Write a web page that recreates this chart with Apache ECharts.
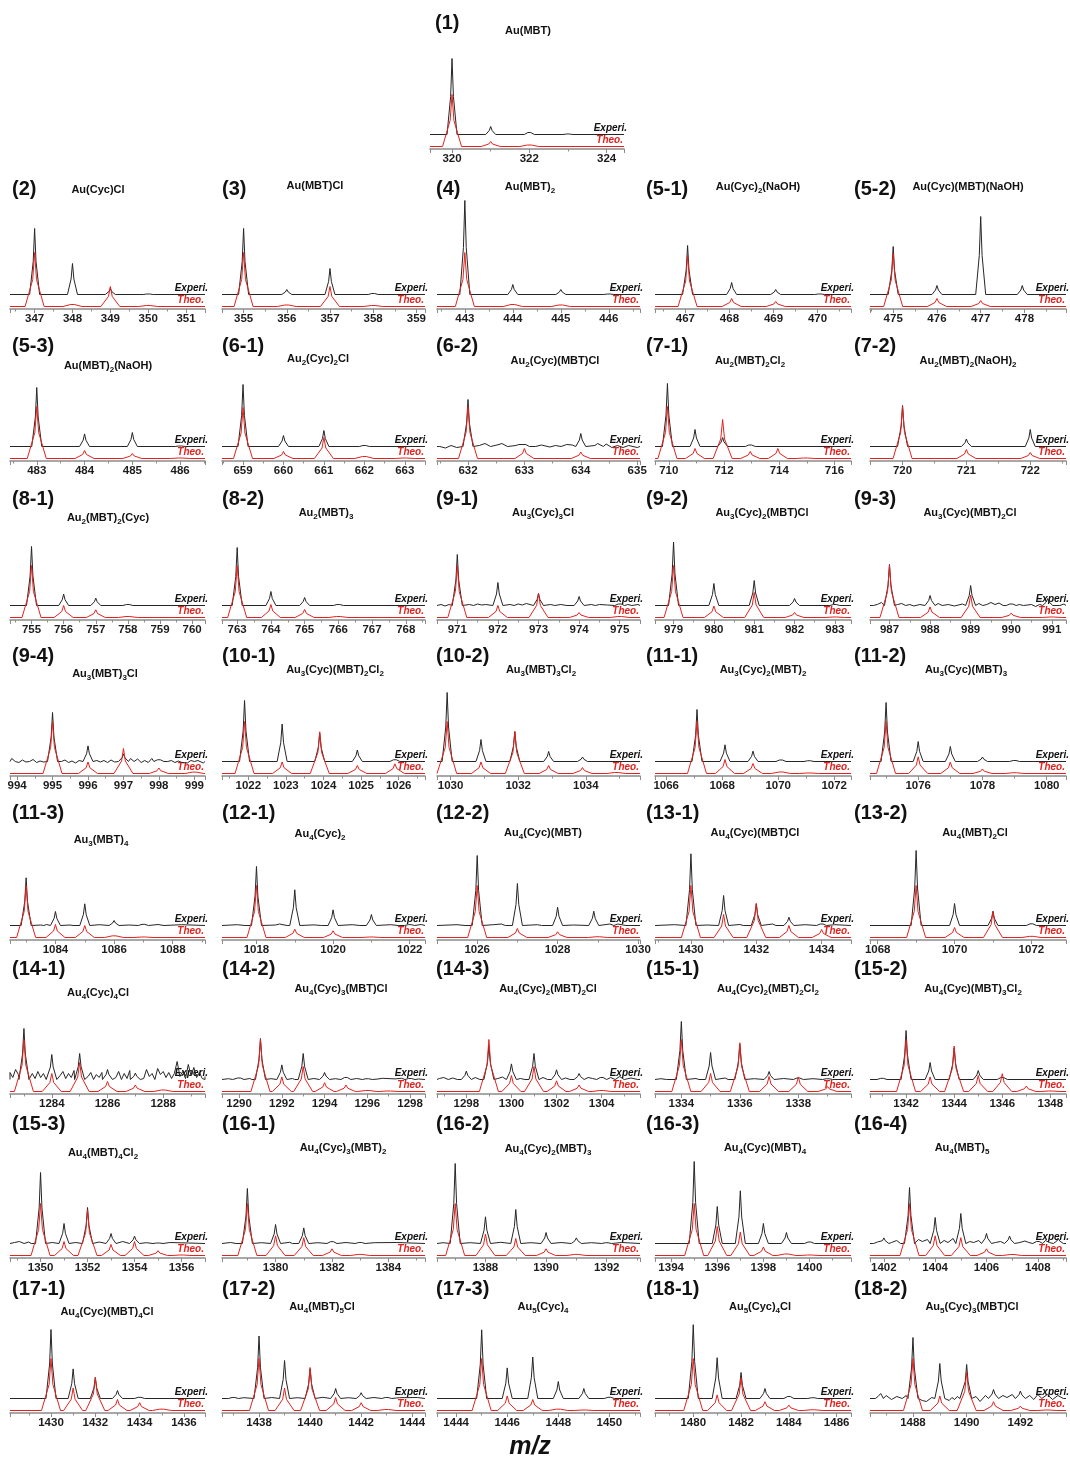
<!DOCTYPE html>
<html>
<head>
<meta charset="utf-8">
<script src="https://cdn.jsdelivr.net/npm/echarts@6/dist/echarts.min.js"></script>
<style>
  html, body { margin: 0; padding: 0; background: #fff; }
  #chart { width: 1070px; height: 1461px; }
</style>
</head>
<body>
<div id="chart"></div>
<script>
// ---- Isotope patterns: [m/z, intensity] (intensity in a.u., theoretical base peak = 52) ----
// Experimental (E*), theoretical (T*), and baseline noise of the experimental trace (N*).
const E1 = [[320, 76], [321, 8], [322, 4], [323, 1]];
const T1 = [[320, 52], [321, 5], [322, 3]];
const E2 = [[347, 66], [348, 31], [349, 6], [350, 1]];
const T2 = [[347, 54], [348, 4], [349, 20], [350, 2]];
const E3 = [[355, 66], [356, 5], [357, 26], [358, 2]];
const T3 = [[355, 54], [356, 3], [357, 20], [358, 2]];
const E4 = [[443, 94], [444, 10], [445, 5], [446, 1]];
const T4 = [[443, 54], [444, 4], [445, 3]];
const E5_1 = [[467.05, 49], [468.05, 12], [469.05, 5], [470.05, 1]];
const T5_1 = [[467.05, 51], [468.05, 8], [469.05, 5]];
const E5_2 = [[475, 48], [476, 9], [477, 78], [477.95, 9]];
const T5_2 = [[475, 53], [476, 8], [477, 6]];
const E5_3 = [[483, 59], [484, 12.6], [485, 14], [486, 1]];
const T5_3 = [[483, 52], [484, 8], [485, 5], [486, 1]];
const E6_1 = [[659, 62], [660, 11], [661, 16], [662, 2]];
const T6_1 = [[659, 51], [660, 7], [661, 21], [662, 4], [663, 1]];
const E6_2 = [[632, 47], [633, 4], [634, 13]];
const T6_2 = [[632, 52], [633, 10], [634, 6.5]];
const N6_2 = [[631.5, 0], [631.6, -1.5], [631.7, 1], [631.8, -1], [632.2, 1], [632.3, 3], [632.4, 0], [632.55, 2], [632.6, 3], [632.7, 0],
  [632.85, 1], [632.9, 2], [633.2, 0], [633.3, 1.5], [633.45, -0.5], [633.55, 1], [633.65, 0], [633.75, 2], [633.85, 1.5],
  [634.25, 1], [634.3, 3], [634.4, 0], [634.45, 2.5], [634.55, -1], [634.65, 1], [634.75, -1], [634.85, 1], [635.0, -1]];
const E7_1 = [[709.95, 63], [710.95, 17], [711.95, 9], [712.95, 3]];
const T7_1 = [[709.95, 52], [710.95, 10], [711.95, 39], [712.95, 7], [713.95, 10], [714.95, 1]];
const E7_2 = [[720, 41], [721, 7.5], [722, 17]];
const T7_2 = [[720, 52], [721, 9], [722, 6]];
const E8_1 = [[755, 59], [756, 11.4], [757, 7.4], [758, 2]];
const T8_1 = [[755, 52], [756, 12], [757, 7.7], [758, 2]];
const E8_2 = [[763, 58], [764, 14], [765, 8], [766, 2]];
const T8_2 = [[763, 52], [764, 13], [765, 8], [766, 2]];
const E9_1 = [[971, 51], [972, 23], [973, 12], [974, 9], [975, 3]];
const T9_1 = [[971, 52], [972, 12], [973, 24], [974, 5], [975, 2]];
const N9_1 = [[970.6, 1], [970.7, -0.5], [970.8, 1], [971.3, 1], [971.4, 0], [971.5, 1.5], [971.6, 0.5], [971.7, 1], [972.3, 1],
  [972.4, 0], [972.5, 1.5], [972.6, 0.5], [972.7, 2], [973.3, 1], [973.4, 0], [973.55, 1], [973.7, 0], [974.3, 1], [974.4, 0],
  [974.5, 1], [974.7, 0.5], [975.2, 1], [975.3, 0], [975.45, 1]];
const E9_2 = [[979, 63.5], [980, 22], [981, 25], [982, 7], [983, 2]];
const T9_2 = [[979, 52], [980, 11.5], [981, 25], [982, 5], [983, 1]];
const E9_3 = [[987, 41], [988, 10], [989, 20], [990, 3], [990.9, 7]];
const T9_3 = [[987, 52], [988, 10.6], [989, 22.5], [990, 4.4], [991, 1]];
const N9_3 = [[986.6, 0], [986.7, 1], [986.8, 3], [986.9, 1], [987.2, 1], [987.3, 2], [987.4, 0], [987.5, 1], [987.6, -0.5],
  [987.75, 1], [988.2, 2], [988.3, 0], [988.45, 1], [988.6, -0.5], [988.8, 1.5], [989.2, 2], [989.3, 0], [989.4, 1], [989.5, 3],
  [989.6, 1], [989.7, 2.5], [989.8, 0], [990.2, 1], [990.3, 0], [990.5, 1], [990.6, -1], [990.7, 1], [991.2, 0], [991.3, 1.5]];
const E9_4 = [[995, 49], [996, 15.6], [997, 7.6], [998, 3.5]];
const T9_4 = [[995, 52], [996, 11.5], [997, 25], [998, 5.5], [999, 2.8]];
const N9_4 = [[993.85, 3], [993.95, 0], [994.05, -1], [994.15, 1.5], [994.25, -0.5], [994.35, 0], [994.45, 2], [994.55, -1],
  [994.65, 0.5], [994.75, -0.5], [995.25, 0], [995.35, 1.5], [995.45, -1], [995.55, 0.5], [995.65, -1.5], [995.75, 1],
  [996.25, 1], [996.35, -0.5], [996.45, 1], [996.55, -1], [996.65, 1.5], [996.75, -0.5], [997.2, 3], [997.3, 0], [997.4, 2.5],
  [997.5, -1], [997.6, 1], [997.7, -1], [997.8, 3], [998.15, 3.5], [998.25, 0], [998.35, 1], [998.45, -1], [998.55, 0.5],
  [998.65, -1], [998.8, -1.5], [998.9, 1], [999.0, 0], [999.1, 1], [999.25, -1.5]];
const E10_1 = [[1021.9, 61], [1022.9, 37.5], [1023.9, 28], [1024.9, 11.5], [1025.9, 3.5]];
const T10_1 = [[1021.9, 52], [1022.9, 11.5], [1023.9, 41.7], [1024.9, 8], [1025.9, 9.7]];
const E10_2 = [[1029.9, 69], [1030.9, 22], [1031.9, 30], [1032.9, 10], [1033.9, 4.5]];
const T10_2 = [[1029.9, 52], [1030.9, 11.5], [1031.9, 41.7], [1032.9, 8], [1033.9, 6], [1034.9, 2]];
const E11_1 = [[1067.1, 52], [1068.1, 16.7], [1069.1, 10.4], [1070.1, 3], [1071.1, 1.5]];
const T11_1 = [[1067.1, 52], [1068.1, 14], [1069.1, 10], [1070.1, 3], [1071.1, 1]];
const E11_2 = [[1075, 59], [1076, 20], [1077, 15], [1078, 4.5], [1079, 2]];
const T11_2 = [[1075, 52], [1076, 16.7], [1077, 11.5], [1078, 4.5], [1079, 1.5]];
const E11_3 = [[1083, 47.7], [1084, 14], [1085, 21.7], [1086, 5], [1087, 2.3]];
const T11_3 = [[1083, 52], [1084, 13], [1085, 12], [1086, 3.3], [1087, 1]];
const N11_3 = [[1083.5, 0.5], [1083.6, 0], [1083.7, 1], [1084.5, 0.5], [1084.6, 0], [1085.5, 0.8], [1086.5, 0.5], [1087.5, 1], [1087.7, 0], [1088.3, 0.8]];
const E12_1 = [[1018, 59], [1019, 35.7], [1020, 15.7], [1021, 11], [1022, 1.7]];
const T12_1 = [[1018, 52], [1019, 8.3], [1020, 6.7], [1021, 1]];
const N12_1 = [[1017.5, 0.8], [1017.7, 0], [1018.5, 0.5], [1018.6, 1.5], [1018.8, 0], [1019.5, 0.6], [1019.7, 0], [1020.5, 0.8], [1020.7, 0], [1021.5, 0.8], [1021.7, 0], [1022.3, 1]];
const E12_2 = [[1026, 70], [1027, 42], [1028, 18.3], [1028.9, 14.3]];
const T12_2 = [[1026, 52], [1027, 9], [1028, 5.7], [1029, 1.5]];
const N12_2 = [[1025.5, 0.8], [1025.7, 0], [1026.4, 0.8], [1026.6, 1.5], [1026.7, 0], [1027.5, 0.8], [1027.6, 0], [1028.4, 0.5], [1029.3, 1.5], [1029.4, 0], [1029.5, 1.5], [1029.7, 0]];
const E13_1 = [[1430, 71.7], [1431, 30], [1432, 21.7], [1433, 8.3], [1434, 3]];
const T13_1 = [[1430, 52], [1431, 23], [1432, 34], [1433, 12], [1434, 8]];
const N13_1 = [[1429.5, 0.8], [1430.5, 0.5], [1431.5, 1], [1431.6, 0], [1432.5, 1.5], [1432.6, 0], [1433.5, 0.8], [1434.4, 0.8]];
const E13_2 = [[1069, 75], [1070, 22], [1071, 14.3], [1072, 3.3]];
const T13_2 = [[1069, 52], [1070, 10], [1071, 25.7], [1072, 2.3]];
const E14_1 = [[1283, 51], [1284, 25], [1285, 26], [1286, 10], [1287, 6.5]];
const T14_1 = [[1283, 52], [1284, 18], [1285, 29], [1286, 10], [1287, 6.5], [1288, 3]];
const N14_1 = [[1282.5, 7], [1282.6, 2], [1282.7, 10], [1282.8, 5], [1282.9, 7], [1283.3, 6], [1283.4, 1], [1283.5, 8], [1283.6, 2],
  [1283.7, 6], [1283.8, 0], [1284.3, 4], [1284.4, 8], [1284.5, 1], [1284.6, 6], [1284.7, 2], [1284.8, 9], [1285.3, 3], [1285.4, 7],
  [1285.5, 0], [1285.6, 5], [1285.7, 2], [1285.8, 7], [1285.9, 0], [1286.3, 2], [1286.4, 8], [1286.5, 0], [1286.6, 6], [1286.7, 1],
  [1286.8, 9], [1286.9, 2], [1287.3, 1], [1287.4, 10], [1287.5, 3], [1287.6, 6], [1287.7, 0], [1287.8, 11], [1287.9, 5],
  [1288.0, 8], [1288.1, 2], [1288.2, 7], [1288.3, 1], [1288.4, 6], [1288.5, 18], [1288.6, 3], [1288.7, 8], [1288.8, 1],
  [1288.9, 15], [1289.0, 4], [1289.1, 12], [1289.2, 2], [1289.3, 7], [1289.4, 1], [1289.5, 3]];
const E14_2 = [[1290, 3], [1291, 41], [1292, 14.6], [1293, 26], [1294, 7], [1295, 4], [1296, 1.5], [1298, 2]];
const T14_2 = [[1291, 52], [1292, 14.6], [1293, 25], [1294, 8.8], [1295, 6.5], [1296, 2], [1297, 1]];
const N14_2 = [[1289.5, 0.8], [1289.7, 0], [1290.5, 1], [1290.6, 0], [1291.5, 0.8], [1292.5, 1], [1292.6, 0], [1293.5, 1], [1294.5, 0.8],
  [1295.5, 1], [1296.5, 0.5], [1296.7, 1.2], [1297.3, 0.6], [1297.6, 1.2], [1298.4, 0.5]];
const E14_3 = [[1298, 8.4], [1299, 34], [1300, 15.6], [1301, 26], [1302, 9.7], [1303, 6], [1304, 4]];
const T14_3 = [[1299, 52], [1300, 16], [1301, 25], [1302, 10.7], [1303, 6.5], [1304, 2]];
const N14_3 = [[1296.8, 1], [1297.0, 2], [1297.2, 0], [1297.4, 1.5], [1297.6, 0], [1298.4, 2], [1298.6, 0], [1299.4, 1], [1299.6, 2.5],
  [1300.4, 1], [1300.6, 0], [1301.4, 2], [1301.6, 0], [1302.4, 1.5], [1302.6, 0], [1303.4, 2], [1303.6, 1], [1304.4, 2],
  [1304.6, 0], [1304.8, 3], [1305.0, 0], [1305.3, 1.5], [1305.6, 0]];
const E15_1 = [[1334, 58], [1335, 27], [1336, 35], [1337, 8], [1338, 3], [1339, 1.5]];
const T15_1 = [[1334, 52], [1335, 18], [1336, 48.7], [1337, 15], [1338, 14.6], [1339, 5]];
const N15_1 = [[1333.3, 0.8], [1333.5, 0], [1334.5, 1], [1334.6, 0], [1335.5, 1.5], [1335.6, 0], [1336.5, 0.8], [1337.5, 1], [1338.5, 0.8], [1339.2, 1.2]];
const E15_2 = [[1341, 2.3], [1342, 49], [1343, 17], [1344, 31.5], [1345, 9], [1346, 4]];
const T15_2 = [[1342, 52], [1343, 14.6], [1344, 45.5], [1345, 16], [1346, 17.8], [1347, 5.5], [1348, 1]];
const E15_3 = [[1350, 71], [1351, 20], [1352, 36], [1353, 10], [1354, 7.4], [1355, 1]];
const T15_3 = [[1350, 52], [1351, 14], [1352, 45.6], [1353, 11], [1354, 14], [1355, 4.8], [1356, 1]];
const N15_3 = [[1348.9, 1], [1349.1, 2], [1349.3, 0], [1349.5, 1.5], [1349.6, 0], [1350.5, 1], [1351.5, 1], [1352.5, 1.5], [1353.5, 2], [1354.5, 0.8], [1355.5, 1], [1356.3, 0.5]];
const E16_1 = [[1379, 55], [1380, 19], [1381, 15.6], [1382, 3.7], [1383, 2]];
const T16_1 = [[1379, 52], [1380, 19.7], [1381, 17.8], [1382, 6.7], [1383, 2.2]];
const N16_1 = [[1378.4, 1], [1378.6, 0], [1379.5, 0.8], [1380.5, 1.2], [1380.6, 0], [1381.5, 0.8], [1382.5, 1], [1383.5, 0.8], [1384.3, 1]];
const E16_2 = [[1387, 80], [1388, 26.7], [1389, 34], [1390, 11], [1391, 5.6], [1392, 1.5]];
const T16_2 = [[1387, 52], [1388, 21.5], [1389, 17], [1390, 6.7], [1391, 2.2]];
const N16_2 = [[1386.6, 0.8], [1387.5, 0.8], [1388.5, 1.2], [1389.5, 0.8], [1390.5, 1], [1391.5, 0.8], [1392.5, 1]];
const E16_3 = [[1395, 82], [1396, 37], [1397, 52.7], [1398, 20], [1399, 11], [1400, 3]];
const T16_3 = [[1395, 52], [1396, 29], [1397, 23.4], [1398, 8.5], [1399, 3], [1400, 1]];
const E16_4 = [[1402, 5.6], [1403, 56], [1404, 26], [1405, 30], [1406, 10], [1406.9, 7.4], [1408, 4], [1408.8, 5]];
const T16_4 = [[1403, 52], [1404, 19.7], [1405, 17.8], [1406, 6.7], [1407, 2]];
const N16_4 = [[1401.6, 0], [1401.75, 1.5], [1402.3, 1], [1402.5, 3], [1402.65, 0], [1403.35, 4], [1403.5, 2], [1403.7, 4],
  [1404.35, 3], [1404.5, 1], [1404.7, 5], [1405.35, 2], [1405.5, 1], [1405.7, 3], [1406.35, 1], [1406.55, 2], [1407.3, 1],
  [1407.5, 2.5], [1407.65, 1], [1408.3, 3], [1408.45, 1], [1408.6, 2], [1409.0, 2]];
const E17_1 = [[1430, 69], [1431, 29.6], [1432, 21], [1433, 8], [1434, 2.4]];
const T17_1 = [[1430, 52], [1431, 22.5], [1432, 33], [1433, 11], [1434, 7.8], [1435, 2.7]];
const E17_2 = [[1437, 2], [1438, 62.5], [1439, 38], [1440, 29.6], [1441, 10], [1442, 5.8], [1443, 2]];
const T17_2 = [[1438, 52], [1439, 22.5], [1440, 43], [1441, 13], [1442, 7.8], [1443, 2]];
const N17_2 = [[1436.8, 1], [1437.4, 0.8], [1438.5, 1], [1439.5, 0.8], [1440.5, 1.2], [1441.5, 0.8], [1442.5, 1], [1443.5, 0.8], [1444.2, 1]];
const E17_3 = [[1445, 68.7], [1446, 30.6], [1447, 41.5], [1448, 17], [1449, 10], [1450, 2.4]];
const T17_3 = [[1445, 52], [1446, 14.6], [1447, 11], [1448, 2.7], [1449, 1]];
const E18_1 = [[1480, 73.8], [1481, 40.8], [1482, 26], [1483, 10], [1484, 4], [1485, 1.5]];
const T18_1 = [[1480, 52], [1481, 15.6], [1482, 32.6], [1483, 8.8], [1484, 5.4], [1485, 1.5]];
const E18_2 = [[1488, 61], [1489, 35], [1490, 34], [1491, 9], [1492, 7.5]];
const T18_2 = [[1488, 52], [1489, 14.6], [1490, 38.4], [1491, 8.8], [1492, 4.4], [1493, 1]];
const N18_2 = [[1486.6, 0], [1486.7, 2], [1486.8, 5], [1486.9, 0], [1487.0, 3], [1487.2, -1], [1487.4, 2], [1487.6, 0], [1487.75, 3],
  [1488.35, -2], [1488.5, -3], [1488.7, 1], [1489.35, -2], [1489.45, 1], [1489.55, -1], [1489.65, 2], [1489.75, 0],
  [1490.35, 2], [1490.5, -3], [1490.7, 3], [1491.35, 3], [1491.5, 1], [1491.7, 4], [1492.35, 3], [1492.5, -1], [1492.65, 4],
  [1492.8, 0], [1493.0, 4], [1493.2, -1], [1493.4, 3], [1493.6, 0]];

// ---- Panel tags, formulas and m/z axis ranges [min, max, major step], row by row ----
const TAGS = [
  ['(1)'],
  ['(2)', '(3)', '(4)', '(5-1)', '(5-2)'],
  ['(5-3)', '(6-1)', '(6-2)', '(7-1)', '(7-2)'],
  ['(8-1)', '(8-2)', '(9-1)', '(9-2)', '(9-3)'],
  ['(9-4)', '(10-1)', '(10-2)', '(11-1)', '(11-2)'],
  ['(11-3)', '(12-1)', '(12-2)', '(13-1)', '(13-2)'],
  ['(14-1)', '(14-2)', '(14-3)', '(15-1)', '(15-2)'],
  ['(15-3)', '(16-1)', '(16-2)', '(16-3)', '(16-4)'],
  ['(17-1)', '(17-2)', '(17-3)', '(18-1)', '(18-2)']
];
const FORMULAS = [
  ['Au(MBT)'],
  ['Au(Cyc)Cl', 'Au(MBT)Cl', 'Au(MBT)_2', 'Au(Cyc)_2(NaOH)', 'Au(Cyc)(MBT)(NaOH)'],
  ['Au(MBT)_2(NaOH)', 'Au_2(Cyc)_2Cl', 'Au_2(Cyc)(MBT)Cl', 'Au_2(MBT)_2Cl_2', 'Au_2(MBT)_2(NaOH)_2'],
  ['Au_2(MBT)_2(Cyc)', 'Au_2(MBT)_3', 'Au_3(Cyc)_3Cl', 'Au_3(Cyc)_2(MBT)Cl', 'Au_3(Cyc)(MBT)_2Cl'],
  ['Au_3(MBT)_3Cl', 'Au_3(Cyc)(MBT)_2Cl_2', 'Au_3(MBT)_3Cl_2', 'Au_3(Cyc)_2(MBT)_2', 'Au_3(Cyc)(MBT)_3'],
  ['Au_3(MBT)_4', 'Au_4(Cyc)_2', 'Au_4(Cyc)(MBT)', 'Au_4(Cyc)(MBT)Cl', 'Au_4(MBT)_2Cl'],
  ['Au_4(Cyc)_4Cl', 'Au_4(Cyc)_3(MBT)Cl', 'Au_4(Cyc)_2(MBT)_2Cl', 'Au_4(Cyc)_2(MBT)_2Cl_2', 'Au_4(Cyc)(MBT)_3Cl_2'],
  ['Au_4(MBT)_4Cl_2', 'Au_4(Cyc)_3(MBT)_2', 'Au_4(Cyc)_2(MBT)_3', 'Au_4(Cyc)(MBT)_4', 'Au_4(MBT)_5'],
  ['Au_4(Cyc)(MBT)_4Cl', 'Au_4(MBT)_5Cl', 'Au_5(Cyc)_4', 'Au_5(Cyc)_4Cl', 'Au_5(Cyc)_3(MBT)Cl']
];
const MZ_RANGES = [
  [[319.43, 324.45, 2]],
  [[346.35, 351.5, 1], [354.5, 359.2, 1], [442.42, 446.65, 1], [466.31, 470.76, 1], [474.47, 478.95, 1]],
  [[482.44, 486.52, 1], [658.48, 663.5, 1], [631.45, 635.05, 1], [709.5, 716.6, 2], [719.49, 722.56, 1]],
  [[754.33, 760.4, 1], [762.55, 768.57, 1], [970.5, 975.5, 1], [978.54, 983.4, 1], [986.52, 991.35, 1]],
  [[993.8, 999.3, 1], [1021.3, 1026.7, 1], [1029.6, 1035.6, 2], [1065.6, 1072.6, 2], [1074.5, 1080.6, 2]],
  [[1082.45, 1089.1, 2], [1017.1, 1022.4, 2], [1025.0, 1030.05, 2], [1428.9, 1434.9, 2], [1067.8, 1072.9, 2]],
  [[1282.5, 1289.5, 2], [1289.2, 1298.7, 2], [1296.7, 1305.7, 2], [1333.1, 1339.8, 2], [1340.5, 1348.65, 2]],
  [[1348.7, 1357.0, 2], [1378.1, 1385.3, 2], [1386.4, 1393.1, 2], [1393.3, 1401.8, 2], [1401.46, 1409.1, 2]],
  [[1428.15, 1436.95, 2], [1436.55, 1444.5, 2], [1443.25, 1451.2, 2], [1478.4, 1486.6, 2], [1486.4, 1493.7, 2]]
];
const TRACES = [
  [[E1, T1]],
  [[E2, T2], [E3, T3], [E4, T4], [E5_1, T5_1], [E5_2, T5_2]],
  [[E5_3, T5_3], [E6_1, T6_1], [E6_2, T6_2, N6_2], [E7_1, T7_1], [E7_2, T7_2]],
  [[E8_1, T8_1], [E8_2, T8_2], [E9_1, T9_1, N9_1], [E9_2, T9_2], [E9_3, T9_3, N9_3]],
  [[E9_4, T9_4, N9_4], [E10_1, T10_1], [E10_2, T10_2], [E11_1, T11_1], [E11_2, T11_2]],
  [[E11_3, T11_3, N11_3], [E12_1, T12_1, N12_1], [E12_2, T12_2, N12_2], [E13_1, T13_1, N13_1], [E13_2, T13_2]],
  [[E14_1, T14_1, N14_1], [E14_2, T14_2, N14_2], [E14_3, T14_3, N14_3], [E15_1, T15_1, N15_1], [E15_2, T15_2]],
  [[E15_3, T15_3, N15_3], [E16_1, T16_1, N16_1], [E16_2, T16_2, N16_2], [E16_3, T16_3], [E16_4, T16_4, N16_4]],
  [[E17_1, T17_1], [E17_2, T17_2, N17_2], [E17_3, T17_3], [E18_1, T18_1], [E18_2, T18_2, N18_2]]
];

// ---- Page layout (pixels) ----
const COL_X = [[10, 205], [222, 425], [437, 640], [655, 851], [870, 1066]];
const SOLO_X = [430, 624];                 // the single panel of the first row
const ROW_AXIS_Y = [149, 309, 461, 620, 776, 940, 1094, 1258, 1413];
const ROW_TAG_Y = [23, 189, 346, 499, 656, 813, 969, 1124, 1289];
const TAG_X = [12, 222, 436, 646, 854];
const TITLE_POS = [
  [[528, 31]],
  [[98, 190], [315, 186], [530, 187], [758, 187], [968, 187]],
  [[108, 366], [318, 359], [555, 361], [750, 361], [968, 361]],
  [[108, 518], [326, 513], [543, 513], [762, 513], [970, 513]],
  [[105, 674], [335, 670], [541, 670], [763, 670], [966, 670]],
  [[101, 840], [320, 834], [543, 833], [755, 833], [975, 833]],
  [[98, 993], [341, 989], [548, 989], [768, 989], [973, 989]],
  [[103, 1153], [343, 1148], [548, 1149], [765, 1148], [962, 1148]],
  [[107, 1312], [322, 1307], [543, 1307], [760, 1307], [972, 1307]]
];

const FONT = '"Liberation Sans", Arial, Helvetica, sans-serif';
const PLOT_H = 118;        // plot height in px (1 intensity unit = 1 px)
const BASE_GAP = 2.5;      // theoretical baseline sits this far above the axis line
const EXP_OFFSET = 12;     // experimental trace is stacked above the theoretical one
const RED = '#e3221f';
const AXIS_GRAY = '#8c8c8c';

// Peak outline: foot, half-height shoulder, apex (widths given in px)
function buildTrace(peaks, noise, range, pxPerUnit, halfPx, footPx, base) {
  const wh = halfPx / pxPerUnit, wf = footPx / pxPerUnit;
  const pts = [[range[0], base], [range[1], base]];
  peaks.forEach(([x, h]) => {
    pts.push([x - wf, base], [x - wh, base + h / 2], [x, base + h], [x + wh, base + h / 2], [x + wf, base]);
  });
  (noise || []).forEach(([x, v]) => {
    if (!peaks.some(([px]) => Math.abs(px - x) < wf * 1.1)) pts.push([x, base + v]);
  });
  pts.sort((a, b) => a[0] - b[0]);
  return pts;
}

function richFormula(s) {
  return s.replace(/_(\d)/g, '{s|$1}');
}

const grids = [], xAxes = [], yAxes = [], series = [], graphics = [], panels = [];

TAGS.forEach((row, r) => {
  row.forEach((tag, c) => {
    const idx = grids.length;
    const xr = r === 0 ? SOLO_X : COL_X[c];
    const [mn, mx, step] = MZ_RANGES[r][c];
    const width = xr[1] - xr[0];
    const axisY = ROW_AXIS_Y[r];
    grids.push({ left: xr[0], width: width, top: axisY - PLOT_H, height: PLOT_H, containLabel: false });
    xAxes.push({
      type: 'value', gridIndex: idx, min: mn, max: mx,
      minInterval: step, maxInterval: step, splitNumber: 4,
      axisLine: { show: true, onZero: false, lineStyle: { color: AXIS_GRAY, width: 1.6 } },
      axisTick: { show: true, length: 4, lineStyle: { color: AXIS_GRAY, width: 1 } },
      minorTick: { show: true, splitNumber: 2, length: 2.5, lineStyle: { color: AXIS_GRAY, width: 1 } },
      splitLine: { show: false }, minorSplitLine: { show: false },
      axisLabel: {
        margin: 4, fontSize: 11.5, fontWeight: 'bold', color: '#1c1c1c', fontFamily: FONT,
        showMinLabel: true, showMaxLabel: true,
        formatter: v => (Math.abs(v / step - Math.round(v / step)) < 1e-6 ? String(Math.round(v)) : '')
      }
    });
    yAxes.push({ type: 'value', gridIndex: idx, min: -BASE_GAP, max: PLOT_H - BASE_GAP, show: false });
    const [exp, theo, noise] = TRACES[r][c];
    const ppu = width / (mx - mn);
    series.push({
      type: 'line', xAxisIndex: idx, yAxisIndex: idx, showSymbol: false, silent: true, animation: false,
      lineStyle: { color: '#262626', width: 1 }, z: 2,
      data: buildTrace(exp, noise, [mn, mx], ppu, 1.4, 5, EXP_OFFSET)
    });
    series.push({
      type: 'line', xAxisIndex: idx, yAxisIndex: idx, showSymbol: false, silent: true, animation: false,
      lineStyle: { color: RED, width: 1 }, z: 3,
      data: buildTrace(theo, null, [mn, mx], ppu, 1.9, 9.5, 0)
    });
    panels.push({ idx, mx });
    // panel tag and formula
    graphics.push({
      type: 'text', x: r === 0 ? 435 : TAG_X[c], y: ROW_TAG_Y[r],
      style: { text: tag, fontSize: 20, fontWeight: 'bold', fontFamily: FONT, fill: '#111', align: 'left', verticalAlign: 'middle' }
    });
    const [tx, ty] = TITLE_POS[r][c];
    graphics.push({
      type: 'text', x: tx, y: ty,
      style: {
        text: richFormula(FORMULAS[r][c]), fontSize: 11, fontWeight: 'bold', fontFamily: FONT, fill: '#111',
        align: 'center', verticalAlign: 'middle', lineHeight: 15,
        rich: { s: { fontSize: 8, fontWeight: 'bold', fontFamily: FONT, fill: '#111', lineHeight: 9, verticalAlign: 'bottom' } }
      }
    });
  });
});

graphics.push({
  type: 'text', x: 530, y: 1447,
  style: { text: 'm/z', fontSize: 25, fontWeight: 'bold', fontStyle: 'italic', fontFamily: FONT, fill: '#111', align: 'center', verticalAlign: 'middle' }
});

const chart = echarts.init(document.getElementById('chart'), null, { renderer: 'canvas' });
chart.setOption({
  backgroundColor: '#ffffff',
  animation: false,
  grid: grids, xAxis: xAxes, yAxis: yAxes, series: series,
  graphic: { elements: graphics }
});

// "Experi." / "Theo." tags at the right end of each trace, placed through the panel scales
const traceTags = [];
panels.forEach(({ idx, mx }) => {
  const pe = chart.convertToPixel({ gridIndex: idx }, [mx, EXP_OFFSET]);
  const pt = chart.convertToPixel({ gridIndex: idx }, [mx, 0]);
  traceTags.push({
    type: 'text', x: pe[0] + 3, y: pe[1] - 1.5,
    style: { text: 'Experi.', fontSize: 10, fontWeight: 'bold', fontStyle: 'italic', fontFamily: FONT, fill: '#111', align: 'right', verticalAlign: 'bottom' }
  });
  traceTags.push({
    type: 'text', x: pt[0] - 1, y: pt[1] - 1.5,
    style: { text: 'Theo.', fontSize: 10, fontWeight: 'bold', fontStyle: 'italic', fontFamily: FONT, fill: RED, align: 'right', verticalAlign: 'bottom' }
  });
});
chart.setOption({ graphic: { elements: graphics.concat(traceTags) } });
</script>
</body>
</html>
